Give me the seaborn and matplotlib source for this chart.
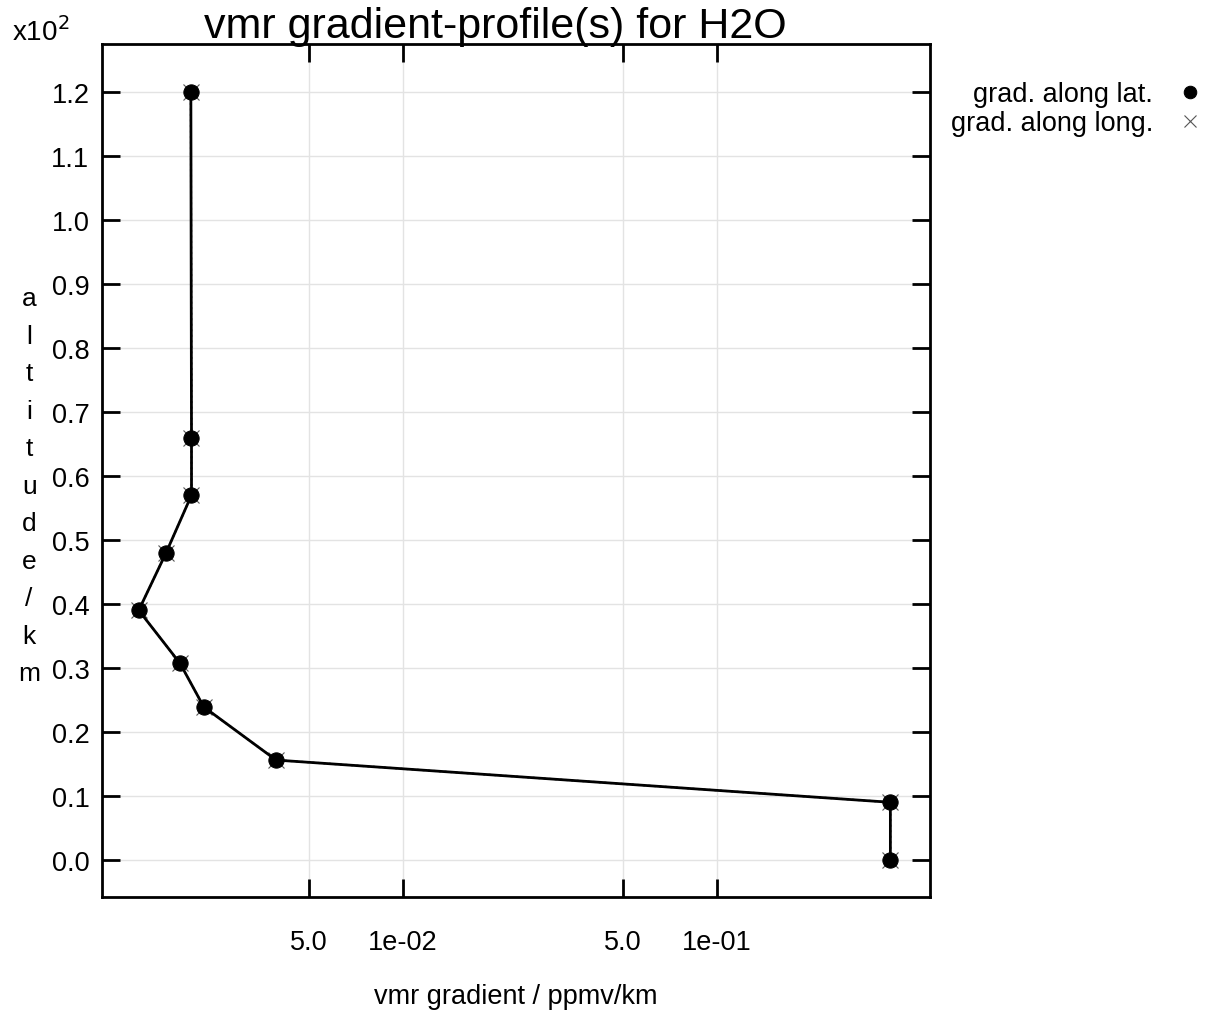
import numpy as np
import matplotlib.pyplot as plt
import matplotlib.ticker as mticker
import pandas as pd
import seaborn as sns

altitude_km = [0, 9, 15.6, 23.9, 30.7, 39.0, 48.0, 57.0, 66.0, 120]
grad_lat = [0.356, 0.356, 3.94e-3, 2.32e-3, 1.95e-3, 1.44e-3, 1.76e-3, 2.12e-3, 2.12e-3, 2.11e-3]
grad_long = [0.356, 0.356, 3.94e-3, 2.32e-3, 1.95e-3, 1.44e-3, 1.76e-3, 2.12e-3, 2.12e-3, 2.11e-3]

xticks = [5e-3, 1e-2, 5e-2, 1e-1]
xtick_labels = ["5.0", "1e-02", "5.0", "1e-01"]
yticks = [0, 10, 20, 30, 40, 50, 60, 70, 80, 90, 100, 110, 120]

df = pd.DataFrame({"alt": altitude_km, "lat": grad_lat, "long": grad_long})

sns.set_style("white")
plt.rcParams["font.family"] = ["Liberation Sans", "DejaVu Sans"]
plt.rcParams["text.color"] = "black"
plt.rcParams["axes.labelcolor"] = "black"
plt.rcParams["xtick.color"] = "black"
plt.rcParams["ytick.color"] = "black"

fig = plt.figure(figsize=(12.23, 10.12), dpi=100)
ax = fig.add_axes([102 / 1223, 114 / 1012, 828 / 1223, 853 / 1012])

sns.lineplot(data=df, x="long", y="alt", sort=False, estimator=None, ax=ax,
             color="#444444", linestyle=":", linewidth=1.5, marker="x", markersize=12,
             markeredgewidth=0.8, markeredgecolor="#555555", label="grad. along long.")
sns.lineplot(data=df, x="lat", y="alt", sort=False, estimator=None, ax=ax,
             color="black", linewidth=2, marker="o", markersize=11,
             markeredgecolor="black", label="grad. along lat.")

ax.set_xscale("log")
ax.set_xlim(1.1e-3, 0.476)
ax.set_ylim(-5.8, 127.5)
ax.set_xticks(xticks)
ax.set_xticklabels(xtick_labels)
ax.xaxis.set_minor_locator(mticker.NullLocator())
ax.set_yticks(yticks)
ax.yaxis.set_major_formatter(mticker.FuncFormatter(lambda v, p: f"{v / 100:.1f}"))

ax.grid(True, color="#e3e3e3", linewidth=1)
for s in ax.spines.values():
    s.set_color("black")
    s.set_linewidth(2)
ax.tick_params(axis="both", direction="in", length=13, width=2, color="black",
               top=True, right=True, bottom=True, left=True, labelsize=19.5)
ax.tick_params(axis="x", pad=23)
ax.tick_params(axis="y", pad=9)

ax.set_xlabel("vmr gradient / ppmv/km", fontsize=19.5, va="center")
ax.xaxis.set_label_coords(0.5, -0.116)
ax.set_ylabel("\n".join("altitude/km"), fontsize=19, rotation=0,
              va="center", ha="center", linespacing=1.71)
ax.yaxis.set_label_coords(-0.088, 0.482)

fig.text(495 / 1223, 1 - 27 / 1012, "vmr gradient-profile(s) for H2O",
         ha="center", va="center", fontsize=31)
fig.text(12 / 1223, 1 - 41 / 1012, r"x10$^2$", ha="left", va="baseline", fontsize=20)

handles, labels = ax.get_legend_handles_labels()
order = [1, 0]
leg = ax.legend([handles[i] for i in order], [labels[i] for i in order],
                loc="upper right", bbox_to_anchor=(1204 / 1223, 1 - 82 / 1012),
                bbox_transform=fig.transFigure, frameon=False, markerfirst=False,
                fontsize=19.5, handlelength=1.0, handletextpad=0.87, labelspacing=0.12,
                borderpad=0, borderaxespad=0)
for line in leg.get_lines():
    line.set_linestyle("none")
leg.get_lines()[0].set_markersize(9)
leg.get_lines()[1].set_markersize(9)

fig.savefig("out.png", dpi=100)
